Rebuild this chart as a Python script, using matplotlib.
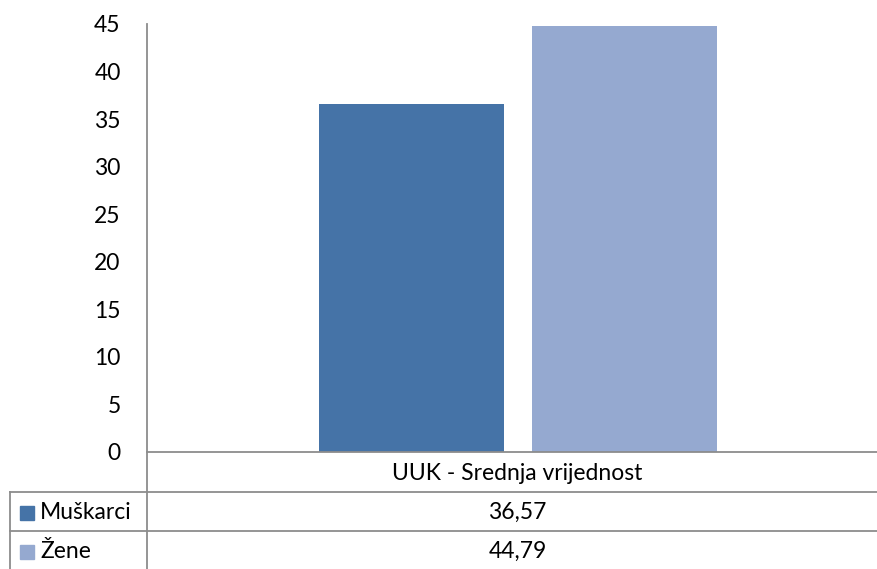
import matplotlib.pyplot as plt
from matplotlib.lines import Line2D
from matplotlib.patches import Rectangle

plt.rcParams['font.family'] = ['Lato', 'DejaVu Sans']

category = 'UUK - Srednja vrijednost'
series = ['Muškarci', 'Žene']
values = [36.57, 44.79]
colors = ['#4573A7', '#95A9D0']
yticks = [0, 5, 10, 15, 20, 25, 30, 35, 40, 45]

W, H = 878, 569
fs = 16.5
fig = plt.figure(figsize=(W / 100, H / 100), dpi=100)

# pixel layout (from top-left)
ax_l, ax_r, ax_t, ax_b = 147, 878, 24, 452
ax = fig.add_axes([ax_l / W, 1 - ax_b / H, (ax_r - ax_l) / W, (ax_b - ax_t) / H])

bw = 0.253
gap = 0.038
center = 0.5075
offs = [-(bw + gap) / 2, (bw + gap) / 2]
for v, c, o in zip(values, colors, offs):
    ax.bar(center + o, v, width=bw, color=c)

ax.set_xlim(0, 1)
ax.set_ylim(0, 45)
ax.set_yticks(yticks)
ax.set_yticklabels([str(t) for t in yticks], fontsize=fs)
ax.tick_params(axis='y', length=0, pad=19)
ax.set_xticks([])
for s in ['top', 'right', 'bottom', 'left']:
    ax.spines[s].set_visible(False)

# data table drawn in figure pixel coords
def fx(px):
    return px / W

def fy(py):
    return 1 - py / H

gc = '#8C8C8C'
def hline(x0, x1, y):
    fig.add_artist(Line2D([fx(x0), fx(x1)], [fy(y), fy(y)], color=gc, lw=1.3))

def vline(x, y0, y1):
    fig.add_artist(Line2D([fx(x), fx(x)], [fy(y0), fy(y1)], color=gc, lw=1.3))

row_y = [452, 492, 531, 570]
vline(ax_l, ax_t, H + 2)
vline(10, row_y[1], H + 2)
hline(ax_l, W, row_y[0])
hline(10, W, row_y[1])
hline(10, W, row_y[2])

mid_x = (ax_l + W) / 2 + 5
fig.text(fx(mid_x), fy((row_y[0] + row_y[1]) / 2 + 2), category,
         ha='center', va='center', fontsize=fs)
for i, (name, v, c) in enumerate(zip(series, values, colors)):
    yc = (row_y[i + 1] + row_y[i + 2]) / 2 + 1
    fig.add_artist(Rectangle((fx(20), fy(yc + 7)), 14 / W, 14 / H,
                             transform=fig.transFigure, color=c))
    fig.text(fx(40), fy(yc), name, ha='left', va='center', fontsize=fs)
    fig.text(fx(mid_x), fy(yc), f'{v:.2f}'.replace('.', ','),
             ha='center', va='center', fontsize=fs)

fig.savefig('out.png', dpi=100)
